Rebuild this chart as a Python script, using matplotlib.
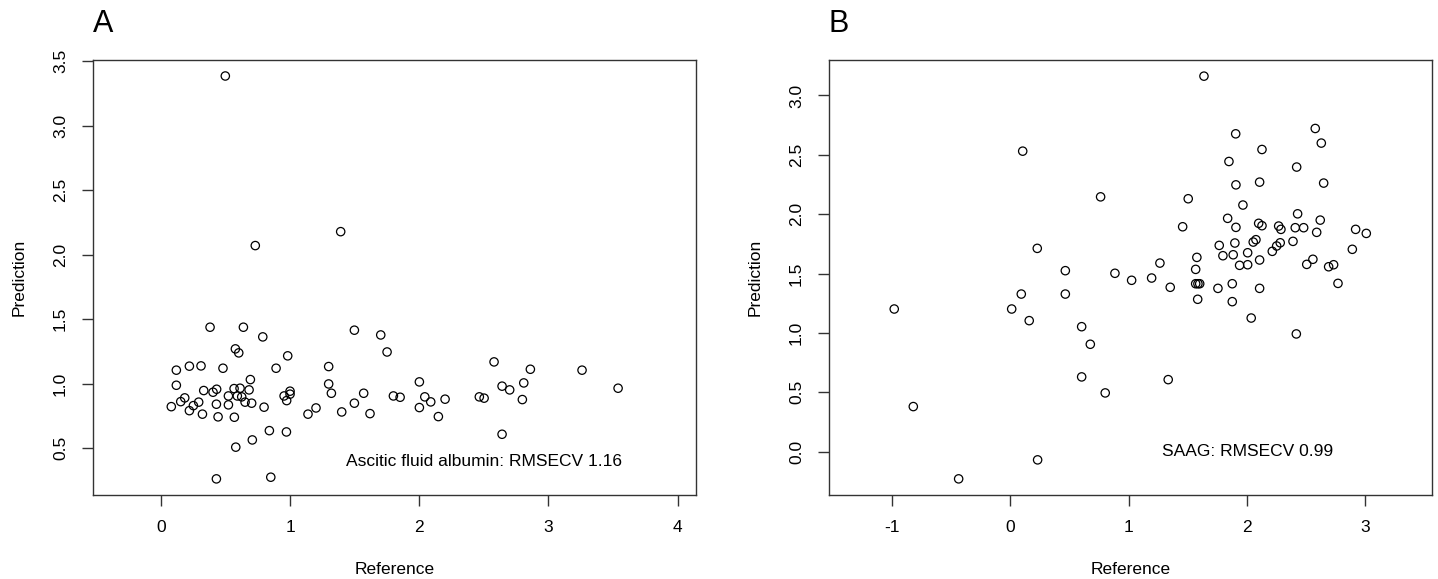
import matplotlib
matplotlib.use('Agg')
import matplotlib.pyplot as plt

plt.rcParams['font.family'] = ['Liberation Sans', 'DejaVu Sans']

# panel A: ascitic fluid albumin
ref_a = [0.381, 0.639, 0.789, 0.577, 0.603, 0.982, 0.120, 0.221, 0.311, 0.481,
         0.892, 1.299, 1.498, 1.702, 1.751, 0.120, 0.693, 0.332, 0.404, 0.432,
         0.567, 0.613, 0.683, 0.523, 0.592, 0.626, 0.652, 0.703, 1.000, 1.000,
         0.954, 0.974, 1.299, 1.320, 1.570, 1.800, 1.852, 0.185, 0.154, 0.081,
         0.221, 0.252, 0.293, 0.322, 0.430, 0.523, 0.443, 0.569, 0.799, 1.139,
         1.201, 1.400, 1.498, 1.619, 0.840, 0.972, 0.708, 0.580, 0.430, 0.851,
         0.499, 0.731, 1.392, 2.001, 2.043, 2.089, 2.001, 2.200, 2.148, 2.465,
         2.502, 2.579, 2.641, 2.700, 2.809, 2.860, 2.798, 2.641, 3.260, 3.539]
pred_a = [1.438, 1.438, 1.363, 1.270, 1.239, 1.216, 1.105, 1.136, 1.138, 1.120,
          1.120, 1.133, 1.415, 1.378, 1.246, 0.988, 1.032, 0.947, 0.934, 0.957,
          0.962, 0.965, 0.952, 0.905, 0.905, 0.898, 0.857, 0.849, 0.942, 0.919,
          0.905, 0.869, 0.998, 0.926, 0.926, 0.905, 0.895, 0.890, 0.861, 0.822,
          0.791, 0.830, 0.857, 0.764, 0.841, 0.836, 0.743, 0.740, 0.818, 0.764,
          0.812, 0.781, 0.849, 0.768, 0.636, 0.626, 0.564, 0.508, 0.262, 0.275,
          3.386, 2.071, 2.179, 1.014, 0.898, 0.859, 0.815, 0.880, 0.745, 0.898,
          0.888, 1.169, 0.981, 0.952, 1.006, 1.112, 0.877, 0.608, 1.105, 0.965]

# panel B: SAAG
ref_b = [0.105, 0.763, 0.228, 0.465, 0.884, -0.980, -0.819, -0.436, 0.012, 0.093,
         0.160, 0.465, 0.603, 0.676, 0.603, 0.802, 0.231, 1.636, 1.904, 2.126,
         1.847, 2.576, 2.627, 2.419, 1.906, 2.106, 2.647, 1.503, 1.965, 1.836,
         1.906, 1.456, 2.098, 2.126, 2.267, 2.286, 2.427, 2.407, 2.478, 2.618,
         2.588, 2.917, 3.007, 1.765, 1.897, 1.796, 1.883, 2.005, 2.052, 2.075,
         2.213, 2.250, 2.280, 2.388, 1.937, 2.005, 2.106, 2.889, 2.504, 2.556,
         2.689, 2.731, 1.264, 1.576, 1.566, 1.025, 1.194, 1.351, 1.566, 1.585,
         1.600, 1.583, 1.754, 1.875, 1.875, 2.106, 2.035, 2.416, 2.768, 1.334]
pred_b = [2.531, 2.146, 1.712, 1.524, 1.502, 1.201, 0.379, -0.230, 1.201, 1.327,
          1.103, 1.327, 1.052, 0.904, 0.629, 0.494, -0.070, 3.163, 2.677, 2.545,
          2.444, 2.722, 2.599, 2.397, 2.247, 2.270, 2.262, 2.130, 2.077, 1.965,
          1.889, 1.894, 1.923, 1.903, 1.900, 1.872, 2.003, 1.886, 1.886, 1.950,
          1.847, 1.872, 1.838, 1.737, 1.757, 1.650, 1.658, 1.675, 1.765, 1.785,
          1.687, 1.732, 1.759, 1.771, 1.569, 1.574, 1.614, 1.704, 1.577, 1.620,
          1.557, 1.574, 1.588, 1.636, 1.535, 1.443, 1.462, 1.384, 1.414, 1.414,
          1.414, 1.283, 1.375, 1.414, 1.263, 1.375, 1.125, 0.991, 1.417, 0.606]

xticks_a = [0, 1, 2, 3, 4]
yticks_a = [0.5, 1.0, 1.5, 2.0, 2.5, 3.0, 3.5]
xticks_b = [-1, 0, 1, 2, 3]
yticks_b = [0.0, 0.5, 1.0, 1.5, 2.0, 2.5, 3.0]

W, H = 1438, 579
fig = plt.figure(figsize=(W / 100, H / 100), dpi=100)

edge = '#333333'
fs = 12.5


# R base-graphics look: boxed axes, outward ticks, rotated y labels
def r_panel(rect, x, y, xlim, ylim, xticks, yticks, note, note_xy, letter):
	ax = fig.add_axes(rect)
	ax.scatter(x, y, s=36, facecolors='none', edgecolors='black', linewidths=0.9)
	ax.set_xlim(xlim)
	ax.set_ylim(ylim)
	ax.set_xticks(xticks)
	ax.set_yticks(yticks)
	ax.set_xticklabels([str(t) for t in xticks])
	ax.set_yticklabels(['%.1f' % t for t in yticks])
	for s in ax.spines.values():
		s.set_color(edge)
		s.set_linewidth(1.0)
	ax.tick_params(direction='out', length=8, width=1.0, color=edge,
	               labelsize=fs, pad=10)
	ax.tick_params(axis='y', labelrotation=90)
	for lab in ax.get_yticklabels():
		lab.set_va('center')
	ax.set_xlabel('Reference', fontsize=fs)
	ax.set_ylabel('Prediction', fontsize=fs)
	ax.xaxis.label.set_va('center')
	ax.yaxis.label.set_va('center')
	ax.xaxis.set_label_coords(0.5, -0.172)
	ax.yaxis.set_label_coords(-0.1227, 0.5)
	ax.text(note_xy[0], note_xy[1], note, fontsize=fs, ha='center', va='center')
	fig.text(rect[0], 1 - 24 / H, letter, fontsize=22, ha='left', va='center')
	return ax


def px_rect(l, r, t, b):
	return [l / W, 1 - b / H, (r - l) / W, (b - t) / H]


r_panel(px_rect(93, 696, 60, 495), ref_a, pred_a, (-0.525, 4.142), (0.137, 3.51),
        xticks_a, yticks_a, 'Ascitic fluid albumin: RMSECV 1.16', (2.5, 0.4), 'A')
r_panel(px_rect(829, 1432, 60, 495), ref_b, pred_b, (-1.531, 3.562), (-0.366, 3.299),
        xticks_b, yticks_b, 'SAAG: RMSECV 0.99', (2.0, 0.0), 'B')

plt.savefig('out.png', dpi=100)
